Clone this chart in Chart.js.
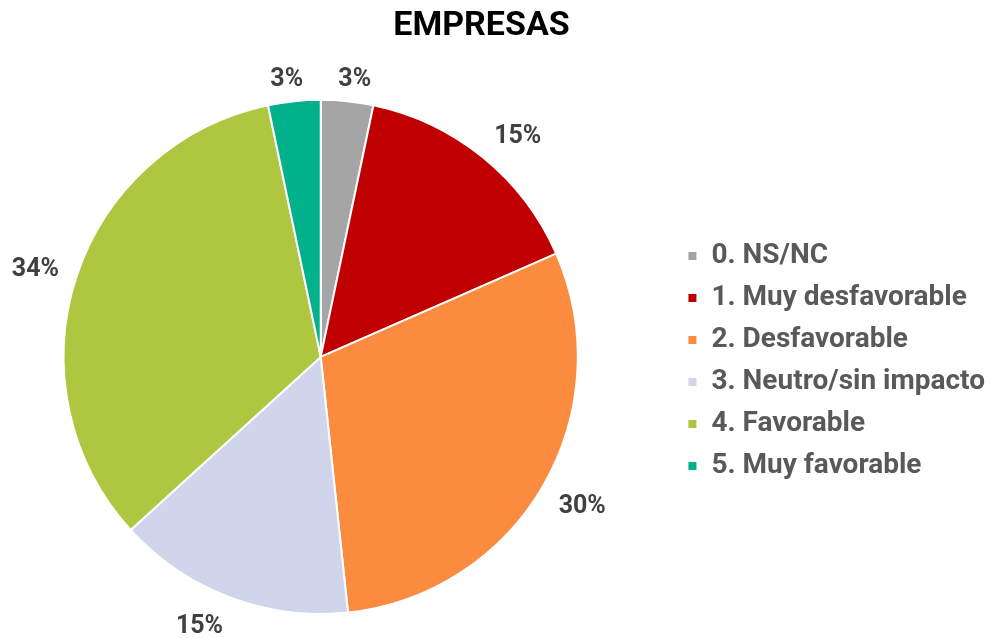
<!DOCTYPE html>
<html>
<head>
<meta charset="utf-8">
<script src="https://cdn.jsdelivr.net/npm/chart.js@4/dist/chart.umd.min.js"></script>
<style>
  html, body { margin: 0; padding: 0; background: #fff; overflow: hidden; }
  #wrap { width: 991px; height: 638px; overflow: hidden; }
  /* canvas is a bit wider and shifted left so the pie sits where the reference has it */
  #chart { display: block; margin-left: -32px; }
</style>
</head>
<body>
<div id="wrap"><canvas id="chart" width="1023" height="638"></canvas></div>
<script>
'use strict';

// data
let categories = ['0. NS/NC', '1. Muy desfavorable', '2. Desfavorable', '3. Neutro/sin impacto', '4. Favorable', '5. Muy favorable'];
let shares = [3.3, 15.2, 30.0, 15.0, 33.6, 3.3];
let colorPalette = ['#A5A5A5', '#C00000', '#FA8B3F', '#CFD5EA', '#AEC640', '#00B18C'];

let clamp = function(v, lo, hi) {
    return Math.max(lo, Math.min(hi, v));
};

// percent labels outside each slice: the label box corner facing the pie
// sits on a ring just outside the pie, at the slice's middle angle
let outsideLabels = {
    id: 'outsideLabels',
    afterDatasetsDraw: function(chart) {
        let ctx = chart.ctx;
        let meta = chart.getDatasetMeta(0);
        let values = chart.data.datasets[0].data;
        let area = chart.chartArea;
        ctx.save();
        ctx.font = 'bold 25px Roboto';
        ctx.fillStyle = '#404040';
        ctx.textAlign = 'center';
        ctx.textBaseline = 'middle';
        meta.data.forEach(function(arc, i) {
            let p = arc.getProps(['x', 'y', 'startAngle', 'endAngle', 'outerRadius'], true);
            let mid = (p.startAngle + p.endAngle) / 2;
            let text = Math.round(values[i]) + '%';
            let halfW = ctx.measureText(text).width / 2;
            let halfH = 10;
            let c = Math.cos(mid), s = Math.sin(mid);
            let r = p.outerRadius + 18;
            let x = p.x + c * r + clamp(c / 0.3, -1, 1) * halfW;
            let y = p.y + s * r + clamp(s / 0.6, -1, 1) * halfH;
            y = clamp(y, area.top - 22, chart.height - 11);
            ctx.fillText(text, x, y + 3);
        });
        ctx.restore();
    }
};

let config = {
    type: 'pie',
    data: {
        labels: categories,
        datasets: [{
            data: shares,
            backgroundColor: colorPalette,
            borderColor: '#ffffff',
            borderWidth: 2
        }]
    },
    options: {
        responsive: false,
        animation: false,
        layout: {
            padding: { left: 0, right: -4, top: 0, bottom: 23 }
        },
        plugins: {
            title: {
                display: true,
                text: 'EMPRESAS',
                color: '#000000',
                font: { family: 'Roboto', size: 34, weight: 'bold' },
                padding: { top: 6, bottom: 52 }
            },
            legend: {
                position: 'right',
                fullSize: false,
                // empty title only nudges the item block down a little
                title: {
                    display: true,
                    text: '',
                    font: { size: 5 },
                    padding: { top: 1, bottom: 1 }
                },
                labels: {
                    boxWidth: 10,
                    boxHeight: 10,
                    padding: 14,
                    color: '#595959',
                    font: { family: 'Roboto', size: 28, weight: 'bold' }
                }
            },
            tooltip: { enabled: false }
        }
    },
    plugins: [outsideLabels]
};

let chart = new Chart(document.getElementById('chart').getContext('2d'), config);
</script>
</body>
</html>
